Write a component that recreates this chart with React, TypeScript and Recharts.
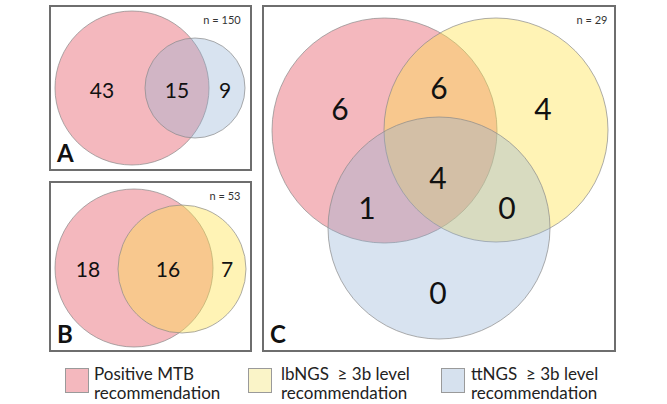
import React from "react";
import { ScatterChart, Scatter, XAxis, YAxis, Cell } from "recharts";

// set colours (drawn at fillOpacity 0.4 so overlaps blend)
const setColors = { mtb: "#e34d5c", lb: "#fee246", tt: "#8fb0d4" };
const swatchColors = { mtb: "#f4b8be", lb: "#faf4c8", tt: "#d6e1ee" };

// panel A: Positive MTB vs ttNGS, n = 150
const circlesA = [
  { set: "mtb", x: 83, y: 83, r: 77 },
  { set: "tt", x: 146, y: 83, r: 50 },
];
const countsA = [
  { label: "43", x: 53, y: 84 },
  { label: "15", x: 128, y: 84 },
  { label: "9", x: 176, y: 84 },
];

// panel B: Positive MTB vs lbNGS, n = 53
const circlesB = [
  { set: "mtb", x: 85, y: 87, r: 79 },
  { set: "lb", x: 133, y: 88, r: 64 },
];
const countsB = [
  { label: "18", x: 39, y: 87 },
  { label: "16", x: 119, y: 87 },
  { label: "7", x: 178, y: 87 },
];

// panel C: all three, n = 29
const circlesC = [
  { set: "mtb", x: 122.5, y: 125.5, r: 112.5 },
  { set: "lb", x: 234, y: 125, r: 112 },
  { set: "tt", x: 177, y: 223, r: 111 },
];
const countsC = [
  { label: "6", x: 78, y: 103 },
  { label: "6", x: 177, y: 82 },
  { label: "4", x: 281, y: 103 },
  { label: "4", x: 176, y: 172 },
  { label: "1", x: 105, y: 202 },
  { label: "0", x: 245, y: 202 },
  { label: "0", x: 176, y: 287 },
];

const legendItems = [
  { set: "mtb", lines: ["Positive MTB", "recommendation"] },
  { set: "lb", lines: ["lbNGS  \u2265 3b level", "recommendation"] },
  { set: "tt", lines: ["ttNGS  \u2265 3b level", "recommendation"] },
];

const FONT = "Lato, 'Open Sans', sans-serif";

interface PanelProps {
  left: number;
  top: number;
  width: number;
  height: number;
  letter: string;
  n: number;
  nX: number;
  circles: { set: string; x: number; y: number; r: number }[];
  counts: { label: string; x: number; y: number }[];
  fontSize: number;
}

function VennPanel({ left, top, width, height, letter, n, nX, circles, counts, fontSize }: PanelProps) {
  const pxPerUnit = 1; // domain spans the full chart size
  return (
    <div style={{ position: "absolute", left, top, width, height }}>
      <ScatterChart width={width} height={height} margin={{ top: 0, right: 0, bottom: 0, left: 0 }}>
        <XAxis type="number" dataKey="x" domain={[0, width]} hide />
        <YAxis type="number" dataKey="y" domain={[0, height]} reversed hide />
        <Scatter
          data={circles}
          isAnimationActive={false}
          shape={(p: any) => (
            <circle
              cx={p.cx}
              cy={p.cy}
              r={p.payload.r * pxPerUnit}
              fill={setColors[p.payload.set as keyof typeof setColors]}
              fillOpacity={p.payload.set === "tt" ? 0.35 : 0.4}
              stroke="#8a8a8a"
              strokeOpacity={0.7}
              strokeWidth={1}
            />
          )}
        >
          {circles.map((c, i) => (
            <Cell key={i} fill={setColors[c.set as keyof typeof setColors]} />
          ))}
        </Scatter>
        <Scatter
          data={counts}
          isAnimationActive={false}
          shape={(p: any) => (
            <text
              x={p.cx}
              y={p.cy}
              textAnchor="middle"
              dominantBaseline="central"
              fontFamily={FONT}
              fontSize={fontSize}
              fill="#111"
            >
              {p.payload.label}
            </text>
          )}
        />
      </ScatterChart>
      <div
        style={{
          position: "absolute",
          inset: 0,
          border: "2px solid #6e6e6e",
          boxSizing: "border-box",
          pointerEvents: "none",
        }}
      />
      <div
        style={{
          position: "absolute",
          left: nX - 30,
          width: 60,
          top: 8,
          textAlign: "center",
          fontFamily: FONT,
          fontSize: 11,
          color: "#333",
        }}
      >
        n = {n}
      </div>
      <div
        style={{
          position: "absolute",
          left: 8,
          bottom: 6,
          fontFamily: FONT,
          fontWeight: 700,
          fontSize: 24,
          lineHeight: "24px",
          color: "#111",
        }}
      >
        {letter}
      </div>
    </div>
  );
}

export default function App() {
  return (
    <div
      style={{
        position: "absolute",
        left: 0,
        top: 0,
        width: 667,
        height: 404,
        background: "#fff",
        overflow: "hidden",
      }}
    >
      <VennPanel left={49} top={5} width={203} height={166} letter="A" n={150} nX={173}
        circles={circlesA} counts={countsA} fontSize={21} />
      <VennPanel left={49} top={181} width={203} height={171} letter="B" n={53} nX={176}
        circles={circlesB} counts={countsB} fontSize={21} />
      <VennPanel left={262} top={5} width={354} height={347} letter="C" n={29} nX={330}
        circles={circlesC} counts={countsC} fontSize={30} />
      {legendItems.map((item, i) => {
        const x = [65, 248, 441][i];
        return (
          <div key={item.set} style={{ position: "absolute", left: x, top: 362 }}>
            <div
              style={{
                position: "absolute",
                left: 0,
                top: 6,
                width: 24,
                height: 25,
                background: swatchColors[item.set as keyof typeof swatchColors],
                border: "1.5px solid #9a9a9a",
                boxSizing: "border-box",
              }}
            />
            {item.lines.map((line, j) => (
              <div
                key={j}
                style={{
                  position: "absolute",
                  left: [29, 33, 30][i],
                  top: 3 + j * 19,
                  fontFamily: FONT,
                  fontSize: 17,
                  lineHeight: "17px",
                  color: "#222",
                  whiteSpace: "pre",
                }}
              >
                {line}
              </div>
            ))}
          </div>
        );
      })}
    </div>
  );
}
